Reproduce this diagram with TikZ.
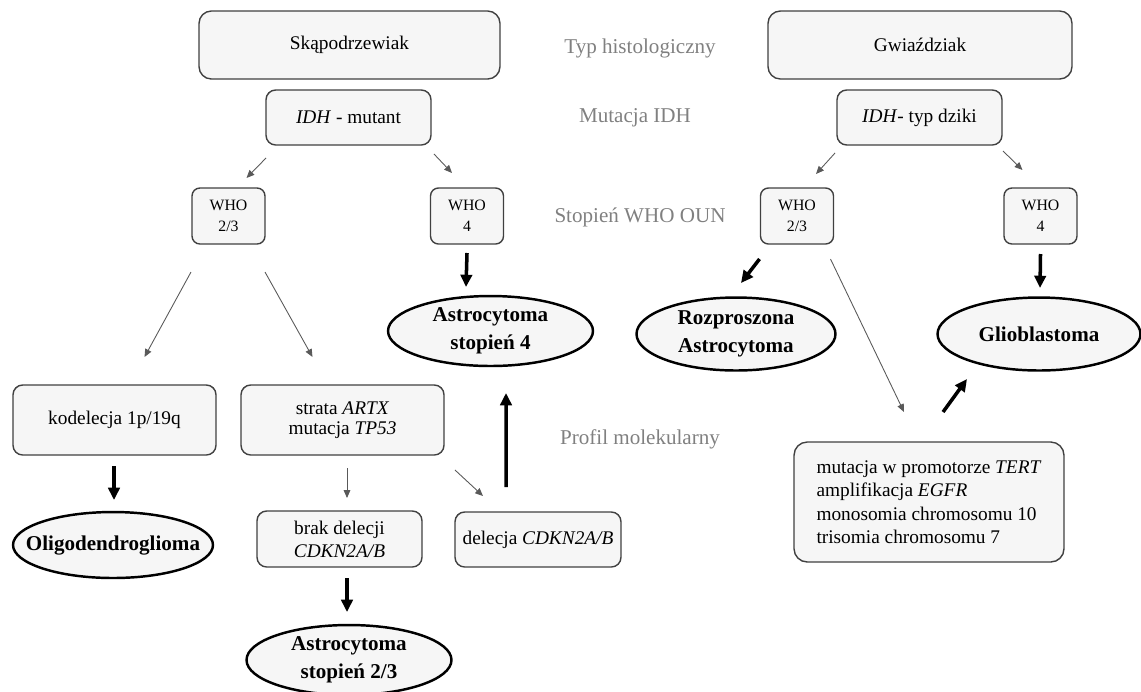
\documentclass[tikz,border=0pt]{standalone}
\usepackage{fontspec}
\setmainfont{Liberation Serif}
\usetikzlibrary{shapes.geometric,arrows.meta}

\begin{document}
\begin{tikzpicture}[x=0.02cm, y=-0.02cm,
    box/.style={draw=black!75, line width=0.8pt, fill=gray!7, rounded corners=5.5pt,
        inner sep=2pt, outer sep=0pt, align=center, font=\fontsize{11}{13}\selectfont},
    whobox/.style={box, rounded corners=4.5pt, minimum width=1.46cm, minimum height=1.12cm,
        font=\fontsize{9}{12}\selectfont},
    wynik/.style={ellipse, draw=black, line width=1.4pt, fill=gray!7, inner xsep=-10pt,
        inner ysep=-2pt, outer sep=0pt, align=center, font=\fontsize{12}{16}\selectfont\bfseries},
    poziom/.style={text=gray, font=\fontsize{12}{14}\selectfont},
    thinarr/.style={draw=black!65, line width=0.5pt, -{Triangle[length=4.5pt,width=3.8pt]}},
    thickarr/.style={draw=black, line width=2pt, -{Triangle[length=7pt,width=6.5pt]}}]
    \useasboundingbox (0,0) rectangle (1141,691);

    % typ histologiczny
    \node[box, minimum width=6.02cm, minimum height=1.36cm, rounded corners=7pt] (sko) at (349.5,45) {Skąpodrzewiak};
    \node[box, minimum width=6.08cm, minimum height=1.36cm, rounded corners=7pt] (gwi) at (920,45) {Gwiaździak};

    % mutacja IDH
    \node[box, minimum width=3.3cm, minimum height=1.1cm] (idhm) at (348.5,117.5) {\textit{IDH} - mutant};
    \node[box, minimum width=3.3cm, minimum height=1.1cm] (idhw) at (919.5,117.5) {\textit{IDH}- typ dziki};

    % stopnie WHO
    \node[whobox] (who1) at (228.5,216) {WHO\\2/3};
    \node[whobox] (who2) at (467,216) {WHO\\4};
    \node[whobox] (who3) at (797,216) {WHO\\2/3};
    \node[whobox] (who4) at (1040.5,216) {WHO\\4};

    % profil molekularny
    \node[box, minimum width=4.06cm, minimum height=1.4cm] (kod) at (114.5,420) {kodelecja 1p/19q};
    \node[box, minimum width=4.06cm, minimum height=1.4cm] (strata) at (342.5,420) {strata \textit{ARTX}\\[-2pt]mutacja \textit{TP53}};
    \node[box, minimum width=3.3cm, minimum height=1.12cm] (brak) at (339.5,539) {brak delecji\\\textit{CDKN2A/B}};
    \node[box, minimum width=3.32cm, minimum height=1.1cm] (del) at (538,539.5) {delecja \textit{CDKN2A/B}};
    \node[box, minimum width=5.4cm, minimum height=2.4cm, rounded corners=7.5pt, align=left,
        font=\fontsize{11}{13.4}\selectfont] (mut) at (929,502)
        {mutacja w promotorze \textit{TERT}\\amplifikacja \textit{EGFR}\\monosomia chromosomu 10\\trisomia chromosomu 7};

    % rozpoznania
    \node[wynik, minimum width=4cm, minimum height=1.32cm] (oligo) at (113,545) {Oligodendroglioma};
    \node[wynik, minimum width=4.1cm, minimum height=1.4cm] (astro4) at (490.5,331) {Astrocytoma\\stopień 4};
    \node[wynik, minimum width=4.1cm, minimum height=1.4cm] (astro23) at (349,660) {Astrocytoma\\stopień 2/3};
    \node[wynik, minimum width=3.98cm, minimum height=1.46cm] (rozp) at (736,334) {Rozproszona\\Astrocytoma};
    \node[wynik, minimum width=4.06cm, minimum height=1.46cm] (glio) at (1039,334) {Glioblastoma};

    % opisy poziomow
    \node[poziom] (typ) at (640,48) {Typ histologiczny};
    \node[poziom] (mutidh) at (635,118) {Mutacja IDH};
    \node[poziom] (stopien) at (640,217) {Stopień WHO OUN};
    \node[poziom] (profil) at (640,439) {Profil molekularny};

    % cienkie strzalki
    \draw[thinarr] ([shift={(0,13)}]idhm.south west) -- ([shift={(18,-10)}]who1.north);
    \draw[thinarr] ([shift={(3,9)}]idhm.south east) -- ([shift={(-15,-15)}]who2.north);
    \draw[thinarr] ([shift={(-2,8)}]idhw.south west) -- ([shift={(19,-14)}]who3.north);
    \draw[thinarr] ([shift={(1,6)}]idhw.south east) -- ([shift={(-18,-18)}]who4.north);
    \draw[thinarr] ([shift={(-1,28)}]who1.south west) -- ([shift={(30,-28)}]kod.north);
    \draw[thinarr] ([shift={(0,28)}]who1.south east) -- ([shift={(-30,-28)}]strata.north);
    \draw[thinarr] ([shift={(-3,15)}]who3.south east) -- ([shift={(-25,-30)}]mut.north);
    \draw[thinarr] ([shift={(4.5,13)}]strata.south) -- ([shift={(7.5,-13)}]brak.north);
    \draw[thinarr] ([shift={(11,15)}]strata.south east) -- ([shift={(28,-16)}]del.north west);

    % grube strzalki
    \draw[thickarr] ([shift={(0,9)}]who2.south) -- ([shift={(-24.5,-9)}]astro4.north);
    \draw[thickarr] ([shift={(-1,15)}]who3.south west) -- ([shift={(5,-14.5)}]rozp.north);
    \draw[thickarr] ([shift={(0,10)}]who4.south) -- ([shift={(1,-9.5)}]glio.north);
    \draw[thickarr] ([shift={(14,-30)}]mut.north) -- ([shift={(-72,8.5)}]glio.south);
    \draw[thickarr] ([shift={(-0.5,11)}]kod.south) -- ([shift={(1,-12)}]oligo.north);
    \draw[thickarr] ([shift={(7.5,11)}]brak.south) -- ([shift={(-2,-13)}]astro23.north);
    \draw[thickarr] ([shift={(-32,-25)}]del.north) -- ([shift={(15.5,27)}]astro4.south);
\end{tikzpicture}
\end{document}
